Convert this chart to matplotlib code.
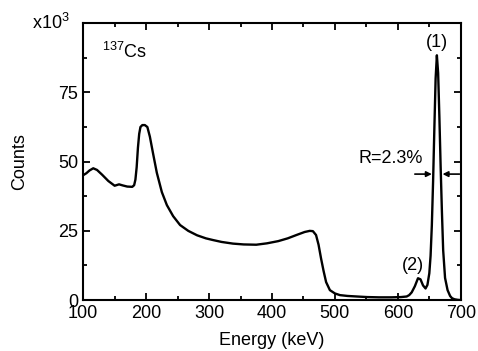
import matplotlib.pyplot as plt
from matplotlib.ticker import MultipleLocator

plt.rcParams['font.family'] = ['Liberation Sans', 'DejaVu Sans']
plt.rcParams['mathtext.default'] = 'regular'

# Spektrum 137Cs (energi keV, cacah x10^3)
energi = [100, 105, 110, 116, 122, 130, 140, 150, 157, 163, 170, 178, 181, 183,
          185, 187, 189, 191, 194, 198, 202, 206, 211, 217, 225, 233, 243, 254,
          267, 281, 295, 306, 320, 338, 355, 375, 392, 410, 425, 440, 452, 460,
          465, 470, 474, 478, 482, 486, 492, 500, 508, 520, 535, 551, 570, 590,
          605, 614, 618, 622, 627, 632, 636, 640, 644, 647, 650, 652, 654, 656,
          658, 660, 662, 664, 666, 668, 670, 672, 675, 679, 683, 686, 690, 695,
          700]
cacah = [45.1, 45.8, 46.8, 47.6, 47.0, 45.3, 43.0, 41.3, 41.8, 41.4, 41.0, 40.9,
         41.5, 43.5, 48.0, 55.0, 60.0, 62.5, 63.2, 63.2, 62.5, 59.0, 53.0, 46.0,
         39.0, 34.3, 30.3, 27.1, 25.0, 23.4, 22.3, 21.7, 21.0, 20.4, 20.1, 20.0,
         20.5, 21.3, 22.3, 23.6, 24.6, 25.0, 24.9, 23.5, 20.0, 15.0, 10.5, 6.5,
         3.6, 2.4, 1.8, 1.5, 1.3, 1.1, 1.0, 1.0, 1.1, 1.3, 1.8, 2.8, 5.0, 7.9,
         7.5, 5.3, 4.2, 5.5, 9.7, 16.0, 27.0, 43.0, 62.0, 80.0, 88.4, 82.0, 66.0,
         48.0, 32.0, 18.0, 8.0, 3.6, 1.5, 0.7, 0.3, 0.1, 0.0]

fig = plt.figure(figsize=(4.78, 3.51), dpi=100)
ax = fig.add_axes([0.174, 0.145, 0.79, 0.789])

ax.plot(energi, cacah, color='black', linewidth=1.7)

ax.set_xlim(100, 700)
ax.set_ylim(0, 100)
ax.xaxis.set_major_locator(MultipleLocator(100))
ax.xaxis.set_minor_locator(MultipleLocator(50))
ax.yaxis.set_major_locator(MultipleLocator(25))
ax.yaxis.set_minor_locator(MultipleLocator(12.5))
ax.set_yticks([0, 25, 50, 75])
ax.tick_params(which='both', direction='in', top=True, right=True,
               labelsize=13, width=1.3)
ax.tick_params(which='major', length=5)
ax.tick_params(which='minor', length=3)
for s in ax.spines.values():
    s.set_linewidth(1.5)

ax.set_xlabel('Energy (keV)', fontsize=13, labelpad=7)
ax.set_ylabel('Counts', fontsize=13, labelpad=22)

ax.text(-0.035, 1.0, r'x10$^{3}$', transform=ax.transAxes, fontsize=13,
        ha='right', va='center')
ax.text(0.05, 0.895, r'$^{137}$Cs', transform=ax.transAxes, fontsize=13,
        ha='left', va='center')
ax.text(662, 93, '(1)', fontsize=13, ha='center', va='center')
ax.text(624, 12.6, '(2)', fontsize=13, ha='center', va='center')
ax.text(588, 51, 'R=2.3%', fontsize=13, ha='center', va='center')

ax.annotate('', xy=(654, 45.5), xytext=(627, 45.5),
            arrowprops=dict(arrowstyle='-|>', color='black', lw=1.2,
                            mutation_scale=8, shrinkA=0, shrinkB=0))
ax.annotate('', xy=(671, 45.5), xytext=(698, 45.5),
            arrowprops=dict(arrowstyle='-|>', color='black', lw=1.2,
                            mutation_scale=8, shrinkA=0, shrinkB=0))

plt.savefig('out.png', dpi=100)
